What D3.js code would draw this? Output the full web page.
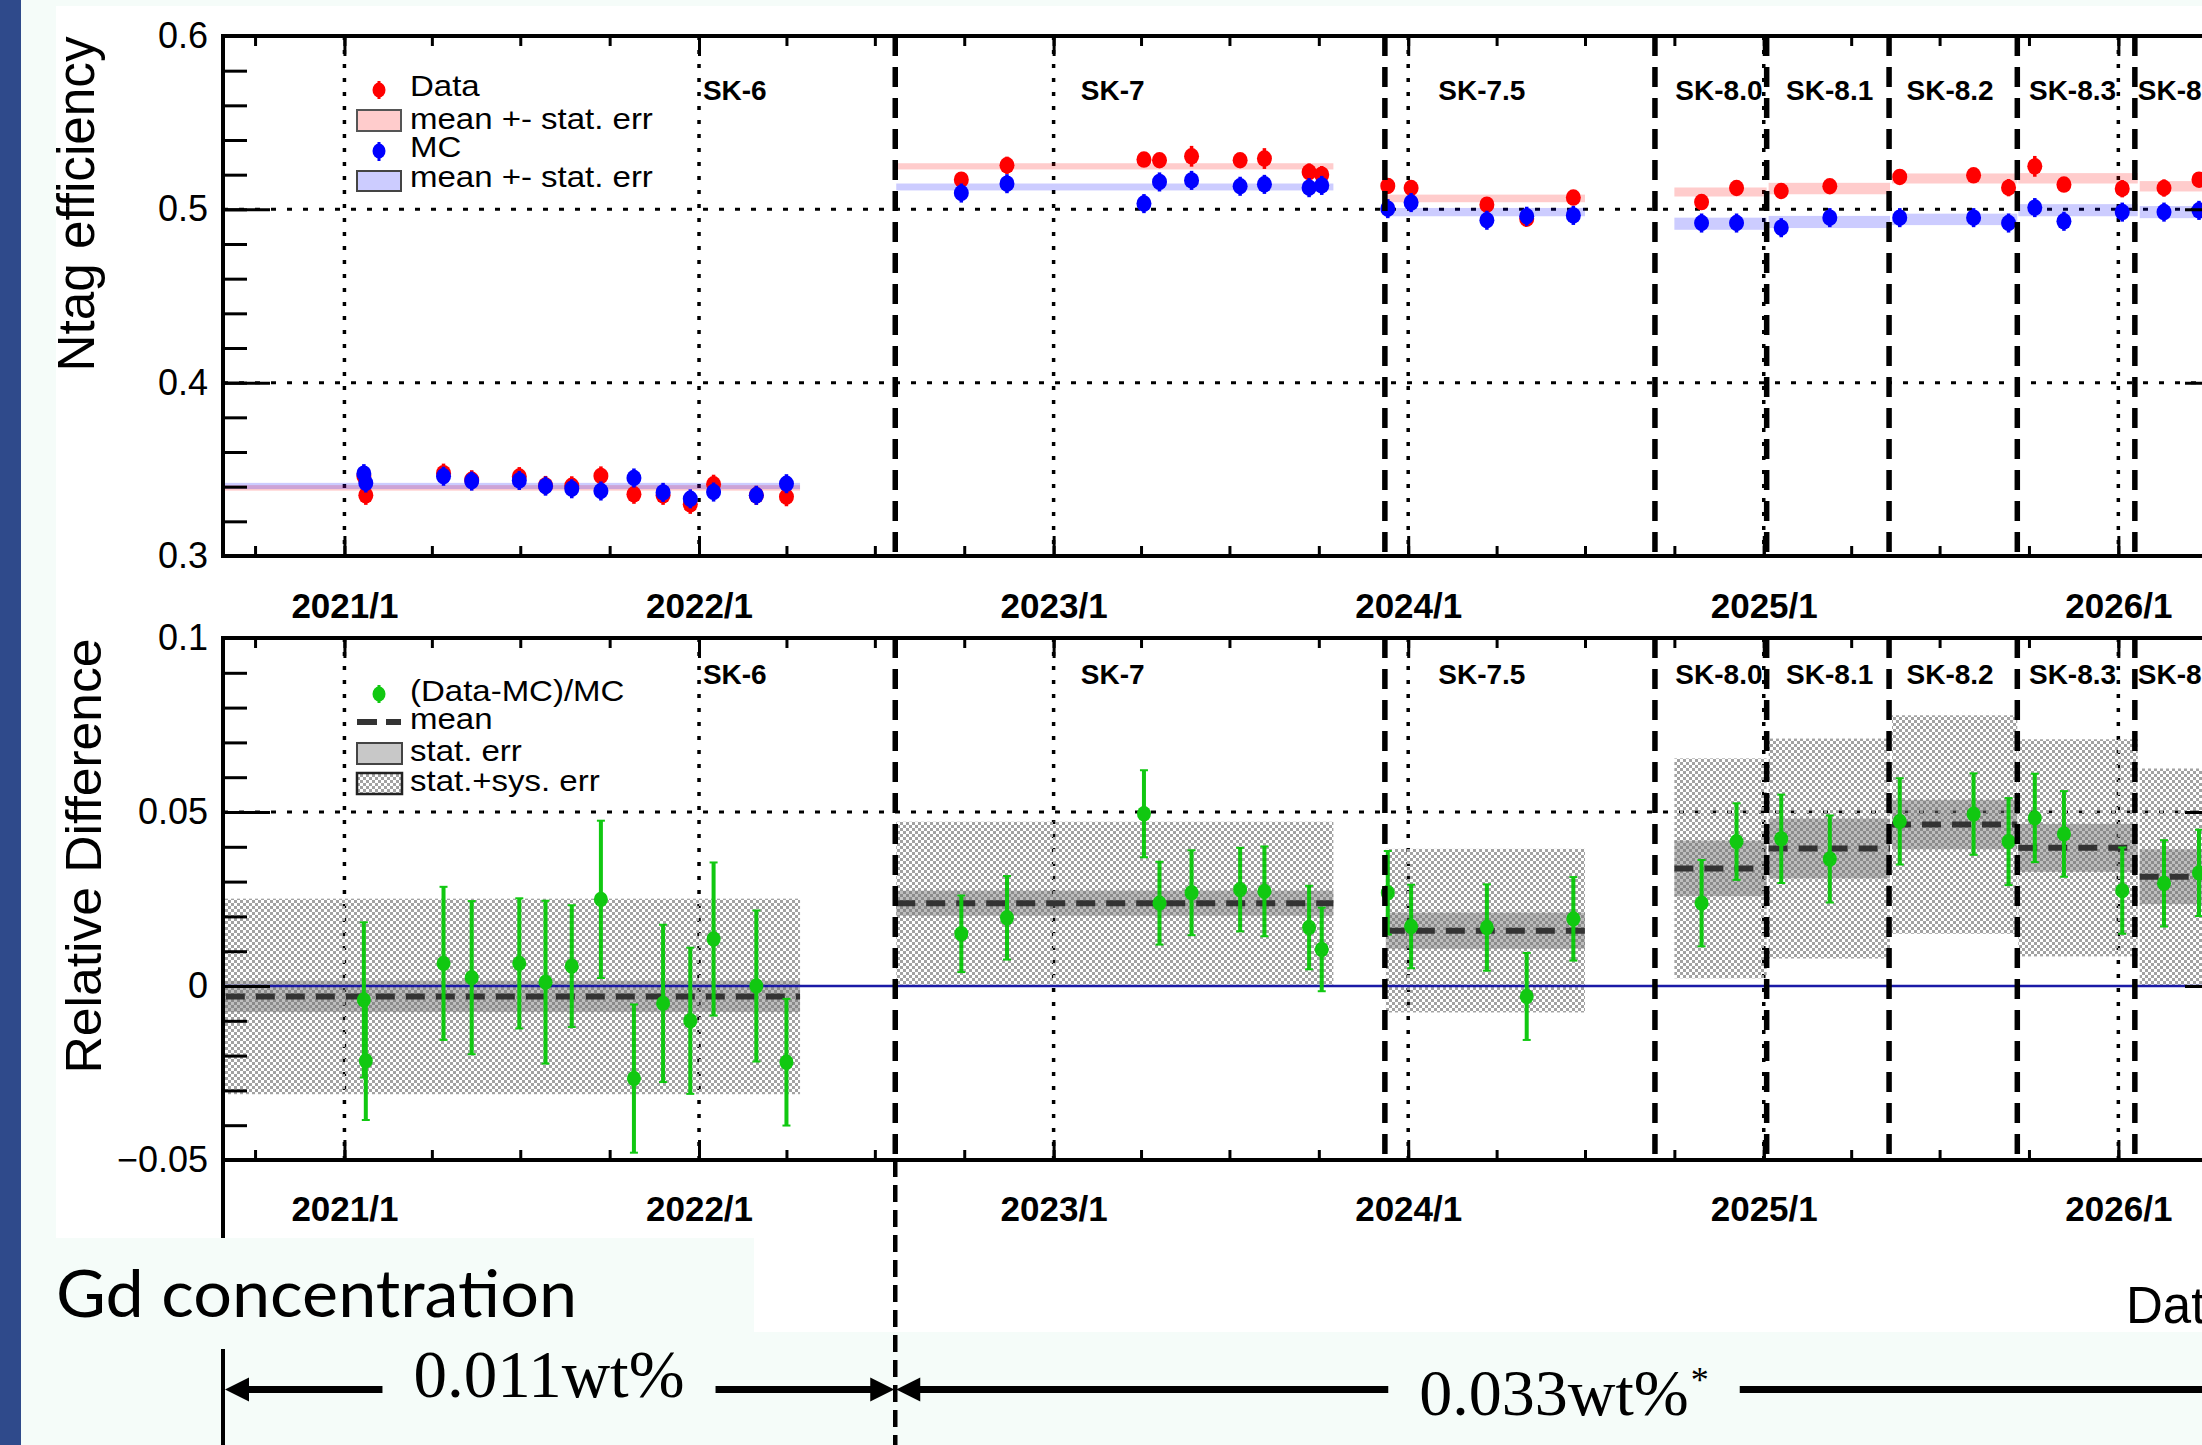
<!DOCTYPE html>
<html>
<head>
<meta charset="utf-8">
<script src="https://cdn.jsdelivr.net/npm/d3@7"></script>
<style>
  body { margin: 0; background: #f5fcf9; }
  svg { display: block; font-family: "Liberation Sans", Arial, sans-serif; }
</style>
</head>
<body>
<svg id="chart" width="2202" height="1445"></svg>
<script>
// run periods
const periodNames = ["SK-6", "SK-7", "SK-7.5", "SK-8.0", "SK-8.1", "SK-8.2", "SK-8.3", "SK-8.4"];
const periodStarts = ["2020-08-01", "2022-07-23", "2023-12-09", "2024-10-01", "2025-01-06", "2025-05-13", "2025-09-20", "2026-01-23"];
const periodEnds = ["2022-04-15", "2023-10-16", "2024-07-01", "2025-01-04", "2025-05-11", "2025-09-19", "2026-01-21", "2026-06-30"];
const periodLabelDates = ["2022-01-05", "2023-01-29", "2024-02-01", "2024-10-02", "2025-01-24", "2025-05-28", "2025-10-01", "2026-01-21"];
const periodBoundaries = ["2022-07-22", "2023-12-08", "2024-09-11", "2025-01-04", "2025-05-10", "2025-09-19", "2026-01-18"];

// per period means
const dataMean = [0.3393, 0.5248, 0.5063, 0.5100, 0.5120, 0.5178, 0.5179, 0.5133];
const dataMeanErr = [0.0016, 0.0018, 0.0022, 0.0026, 0.0033, 0.0029, 0.0030, 0.0030];
const mcMean = [0.3404, 0.5129, 0.4984, 0.4917, 0.4927, 0.4942, 0.4995, 0.4984];
const mcMeanErr = [0.0018, 0.0020, 0.0024, 0.0035, 0.0035, 0.0033, 0.0035, 0.0035];
const relMean = [-0.0030, 0.0238, 0.0159, 0.0338, 0.0395, 0.0464, 0.0397, 0.0314];
const relStatErr = [0.0045, 0.0036, 0.0052, 0.0080, 0.0086, 0.0071, 0.0069, 0.0079];
const relTotalErr = [0.0281, 0.0234, 0.0235, 0.0316, 0.0316, 0.0314, 0.0312, 0.0311];

// single measurements
const pointDates = [
  "2021-01-21", "2021-01-23", "2021-04-13", "2021-05-12", "2021-06-30", "2021-07-27", "2021-08-23",
  "2021-09-22", "2021-10-26", "2021-11-25", "2021-12-23", "2022-01-16", "2022-03-01", "2022-04-01",
  "2022-09-28", "2022-11-14", "2023-04-04", "2023-04-20", "2023-05-23", "2023-07-12", "2023-08-06",
  "2023-09-21", "2023-10-04",
  "2023-12-11", "2024-01-04", "2024-03-22", "2024-05-02", "2024-06-19",
  "2024-10-29", "2024-12-04",
  "2025-01-19", "2025-03-10",
  "2025-05-21", "2025-08-05", "2025-09-10",
  "2025-10-07", "2025-11-06", "2026-01-05",
  "2026-02-17", "2026-03-25"
];
const dataEff = [
  0.3461, 0.3350, 0.3478, 0.3440, 0.3458, 0.3407, 0.3405, 0.3462, 0.3356, 0.3350, 0.3298, 0.3414, 0.3350, 0.3342,
  0.5171, 0.5254, 0.5287, 0.5283, 0.5306, 0.5283, 0.5293, 0.5215, 0.5200,
  0.5135, 0.5123, 0.5027, 0.4946, 0.5068,
  0.5042, 0.5123,
  0.5106, 0.5133,
  0.5187, 0.5196, 0.5125,
  0.5248, 0.5143, 0.5119,
  0.5123, 0.5171
];
const dataEffErr = [
  0.0055, 0.0055, 0.0055, 0.0055, 0.0055, 0.0055, 0.0055, 0.0055, 0.0055, 0.0055, 0.0055, 0.0055, 0.0055, 0.0055,
  0.003, 0.005, 0.003, 0.003, 0.006, 0.003, 0.006, 0.005, 0.005,
  0.004, 0.004, 0.004, 0.004, 0.003,
  0.003, 0.003,
  0.003, 0.003,
  0.003, 0.003, 0.005,
  0.006, 0.003, 0.005,
  0.005, 0.004
];
const mcEff = [
  0.3475, 0.3421, 0.3460, 0.3432, 0.3436, 0.3403, 0.3388, 0.3375, 0.3450, 0.3367, 0.3330, 0.3369, 0.3350, 0.3417,
  0.5094, 0.5148, 0.5033, 0.5158, 0.5167, 0.5133, 0.5144, 0.5125, 0.5138,
  0.5004, 0.5039, 0.4937, 0.4960, 0.4965,
  0.4921, 0.4921,
  0.4894, 0.4952,
  0.4952, 0.4952, 0.4921,
  0.5010, 0.4931, 0.4984,
  0.4984, 0.4994
];
const mcEffErr = [
  0.0055, 0.0055, 0.0055, 0.0055, 0.0055, 0.0055, 0.0055, 0.0055, 0.0055, 0.0055, 0.0055, 0.0055, 0.0055, 0.0055,
  0.0055, 0.0055, 0.0055, 0.0055, 0.0055, 0.0055, 0.0055, 0.0055, 0.0055,
  0.0055, 0.0055, 0.0055, 0.0055, 0.0055,
  0.0055, 0.0055,
  0.0055, 0.0055,
  0.0055, 0.0055, 0.0055,
  0.0055, 0.0055, 0.0055,
  0.0055, 0.0055
];
const relDiff = [
  -0.0040, -0.0215, 0.0065, 0.0024, 0.0065, 0.0011, 0.0057, 0.0249, -0.0266, -0.0050, -0.0100, 0.0135, 0.0000, -0.0219,
  0.0150, 0.0196, 0.0495, 0.0238, 0.0268, 0.0277, 0.0272, 0.0168, 0.0105,
  0.0268, 0.0171, 0.0168, -0.0030, 0.0193,
  0.0238, 0.0415,
  0.0423, 0.0365,
  0.0473, 0.0494, 0.0415,
  0.0483, 0.0437, 0.0274,
  0.0295, 0.0325
];
const relDiffErr = [
  0.0223, 0.0170, 0.0220, 0.0220, 0.0187, 0.0234, 0.0175, 0.0226, 0.0213, 0.0226, 0.0210, 0.0220, 0.0217, 0.0182,
  0.0110, 0.0120, 0.0125, 0.0119, 0.0122, 0.0120, 0.0129, 0.0120, 0.0120,
  0.0120, 0.0120, 0.0124, 0.0125, 0.0120,
  0.0124, 0.0110,
  0.0127, 0.0125,
  0.0124, 0.0117, 0.0125,
  0.0127, 0.0123, 0.0124,
  0.0124, 0.0124
];

// ticks
const yearTicks = ["2021-01-01", "2022-01-01", "2023-01-01", "2024-01-01", "2025-01-01", "2026-01-01"];
const effTicks = [0.3, 0.4, 0.5, 0.6];
const relTicks = [-0.05, 0, 0.05, 0.1];
const effGrid = [0.4, 0.5];
const relGrid = [0.05];

// annotation text
const gdTitle = "Gd concentration";
const gdLabels = ["0.011wt%", "0.033wt%"];

const parse = d3.timeParse("%Y-%m-%d");
const left = 223, right = 2232;
const x = d3.scaleTime()
  .domain([parse("2020-08-29"), parse("2026-04-28")])
  .range([left, right]);
const yEff = d3.scaleLinear().domain([0.3, 0.6]).range([556, 36]);
const yRel = d3.scaleLinear().domain([-0.05, 0.1]).range([1160, 638]);

const points = pointDates.map((d, i) => ({
  date: parse(d),
  data: dataEff[i], dataErr: dataEffErr[i],
  mc: mcEff[i], mcErr: mcEffErr[i],
  rel: relDiff[i], relErr: relDiffErr[i]
}));
const periods = periodNames.map((name, i) => ({
  name,
  start: parse(periodStarts[i]), end: parse(periodEnds[i]), label: parse(periodLabelDates[i]),
  dataMean: dataMean[i], dataMeanErr: dataMeanErr[i],
  mcMean: mcMean[i], mcMeanErr: mcMeanErr[i],
  relMean: relMean[i], relStat: relStatErr[i], relTotal: relTotalErr[i]
}));
const boundaries = periodBoundaries.map(parse);
const years = yearTicks.map(parse);

const svg = d3.select("#chart");

// page background
svg.append("rect").attr("width", 2202).attr("height", 1445).attr("fill", "#f5fcf9");
svg.append("rect").attr("width", 21).attr("height", 1445).attr("fill", "#2f4a8b");
svg.append("rect").attr("x", 56).attr("y", 6).attr("width", 2146).attr("height", 1232).attr("fill", "#fff");
svg.append("rect").attr("x", 754).attr("y", 1238).attr("width", 1448).attr("height", 94).attr("fill", "#fff");

const defs = svg.append("defs");
[["clip-eff", yEff], ["clip-rel", yRel]].forEach(([id, y]) => {
  defs.append("clipPath").attr("id", id).append("rect")
    .attr("x", left).attr("y", y.range()[1])
    .attr("width", right - left).attr("height", y.range()[0] - y.range()[1]);
});
const pattern = defs.append("pattern").attr("id", "checker")
  .attr("width", 6).attr("height", 6).attr("patternUnits", "userSpaceOnUse");
pattern.append("rect").attr("width", 3).attr("height", 3).attr("fill", "#a2a2a2");
pattern.append("rect").attr("x", 3).attr("y", 3).attr("width", 3).attr("height", 3).attr("fill", "#a2a2a2");

function drawGrid(y, gridValues) {
  const [bottom, top] = y.range();
  const g = svg.append("g").attr("stroke", "#000");
  g.selectAll(".hgrid").data(gridValues).join("line")
    .attr("x1", left).attr("x2", right)
    .attr("y1", d => y(d)).attr("y2", d => y(d))
    .attr("stroke-width", 3).attr("stroke-dasharray", "5,11");
  g.selectAll(".vgrid").data(years).join("line")
    .attr("x1", d => x(d)).attr("x2", d => x(d))
    .attr("y1", top).attr("y2", bottom)
    .attr("stroke-width", 3.5).attr("stroke-dasharray", "4,10");
}

function drawBoundaries(y) {
  const [bottom, top] = y.range();
  svg.append("g").selectAll("line").data(boundaries).join("line")
    .attr("x1", d => x(d)).attr("x2", d => x(d))
    .attr("y1", top).attr("y2", bottom)
    .attr("stroke", "#000").attr("stroke-width", 5.5).attr("stroke-dasharray", "20,11");
}

function drawAxes(y, majors, labelPad) {
  const [bottom, top] = y.range();
  const minors = y.ticks(15);
  const g = svg.append("g");
  g.append("g").attr("transform", `translate(${left},0)`)
    .call(d3.axisLeft(y).tickValues(minors).tickSize(-24).tickFormat(""));
  g.append("g").attr("class", "ylab").attr("transform", `translate(${left},0)`)
    .call(d3.axisLeft(y).tickValues(majors).tickSize(-47).tickPadding(15).tickFormat(d3.format("~g")));
  g.append("g").attr("transform", `translate(${right},0)`)
    .call(d3.axisRight(y).tickValues(minors).tickSize(-24).tickFormat(""));
  g.append("g").attr("transform", `translate(${right},0)`)
    .call(d3.axisRight(y).tickValues(majors).tickSize(-47).tickFormat(""));
  g.append("g").attr("transform", `translate(0,${top})`)
    .call(d3.axisTop(x).ticks(d3.timeMonth.every(3)).tickSize(-10).tickFormat(""));
  g.append("g").attr("transform", `translate(0,${bottom})`)
    .call(d3.axisBottom(x).ticks(d3.timeMonth.every(3)).tickSize(-10).tickFormat(""));
  g.append("g").attr("transform", `translate(0,${top})`)
    .call(d3.axisTop(x).tickValues(years).tickSize(-20).tickFormat(""));
  g.append("g").attr("class", "xlab").attr("transform", `translate(0,${bottom})`)
    .call(d3.axisBottom(x).tickValues(years).tickSize(-20).tickPadding(labelPad)
      .tickFormat(d3.timeFormat("%Y/%-m")));
  g.selectAll(".domain").remove();
  g.selectAll(".tick line").attr("stroke", "#000").attr("stroke-width", 3);
  g.selectAll(".ylab text").attr("font-size", 36).attr("font-family", "Liberation Sans, Arial, sans-serif").attr("fill", "#000");
  g.selectAll(".xlab text").attr("font-size", 35).attr("font-weight", "bold")
    .attr("font-family", "Liberation Sans, Arial, sans-serif").attr("fill", "#000");
  g.append("rect").attr("x", left).attr("y", top)
    .attr("width", right - left).attr("height", bottom - top)
    .attr("fill", "none").attr("stroke", "#000").attr("stroke-width", 4);
}

function drawPeriodLabels(yBase) {
  svg.append("g").selectAll("text").data(periods).join("text")
    .attr("x", d => x(d.label)).attr("y", yBase)
    .attr("font-size", 28).attr("font-weight", "bold")
    .text(d => d.name);
}

function drawMarkers(g, key, errKey, y, colour, radius, barWidth, cap) {
  const m = g.append("g").selectAll("g").data(points).join("g");
  m.append("line")
    .attr("x1", d => x(d.date)).attr("x2", d => x(d.date))
    .attr("y1", d => y(d[key] - d[errKey])).attr("y2", d => y(d[key] + d[errKey]))
    .attr("stroke", colour).attr("stroke-width", barWidth);
  if (cap) {
    [-1, 1].forEach(s => {
      m.append("line")
        .attr("x1", d => x(d.date) - cap).attr("x2", d => x(d.date) + cap)
        .attr("y1", d => y(d[key] + s * d[errKey])).attr("y2", d => y(d[key] + s * d[errKey]))
        .attr("stroke", colour).attr("stroke-width", 2);
    });
  }
  m.append("ellipse")
    .attr("cx", d => x(d.date)).attr("cy", d => y(d[key]))
    .attr("rx", radius).attr("ry", radius * 1.1).attr("fill", colour);
}

// legend rows: text widened a little, as in the stretched original
function legendText(g, rows) {
  rows.forEach(([t, yy]) => {
    g.append("text").attr("transform", `translate(410,${yy}) scale(1.1,1)`).text(t);
  });
}

// ---------- upper panel: Ntag efficiency ----------
drawGrid(yEff, effGrid);
const effPlot = svg.append("g").attr("clip-path", "url(#clip-eff)");
effPlot.append("g").selectAll("rect").data(periods).join("rect")
  .attr("x", d => x(d.start)).attr("width", d => x(d.end) - x(d.start))
  .attr("y", d => yEff(d.dataMean + d.dataMeanErr))
  .attr("height", d => yEff(d.dataMean - d.dataMeanErr) - yEff(d.dataMean + d.dataMeanErr))
  .attr("fill", "rgba(255,0,0,0.2)");
effPlot.append("g").selectAll("rect").data(periods).join("rect")
  .attr("x", d => x(d.start)).attr("width", d => x(d.end) - x(d.start))
  .attr("y", d => yEff(d.mcMean + d.mcMeanErr))
  .attr("height", d => yEff(d.mcMean - d.mcMeanErr) - yEff(d.mcMean + d.mcMeanErr))
  .attr("fill", "rgba(0,0,255,0.2)");
drawBoundaries(yEff);
drawMarkers(effPlot, "data", "dataErr", yEff, "#ff0000", 7.5, 3.5, 0);
drawMarkers(effPlot, "mc", "mcErr", yEff, "#0000ff", 7.5, 3.5, 0);
drawAxes(yEff, effTicks, 37);
drawPeriodLabels(100);

svg.append("text")
  .attr("transform", `translate(94,${(yEff.range()[0] + yEff.range()[1]) / 2 - 92}) rotate(-90)`)
  .attr("text-anchor", "middle").attr("font-size", 51)
  .attr("textLength", 335).attr("lengthAdjust", "spacingAndGlyphs")
  .text("Ntag efficiency");

// legend, upper panel
const legEff = svg.append("g").attr("font-size", 30);
legEff.append("line").attr("x1", 379).attr("x2", 379).attr("y1", 81).attr("y2", 99)
  .attr("stroke", "#ff0000").attr("stroke-width", 3);
legEff.append("ellipse").attr("cx", 379).attr("cy", 90).attr("rx", 6.5).attr("ry", 7.5).attr("fill", "#ff0000");
legEff.append("rect").attr("x", 357).attr("y", 110).attr("width", 44).attr("height", 21)
  .attr("fill", "#ffcccc").attr("stroke", "#555").attr("stroke-width", 2);
legEff.append("line").attr("x1", 379).attr("x2", 379).attr("y1", 142).attr("y2", 161)
  .attr("stroke", "#0000ff").attr("stroke-width", 3);
legEff.append("ellipse").attr("cx", 379).attr("cy", 151).attr("rx", 6.5).attr("ry", 7.5).attr("fill", "#0000ff");
legEff.append("rect").attr("x", 357).attr("y", 171).attr("width", 44).attr("height", 20)
  .attr("fill", "#ccccff").attr("stroke", "#444").attr("stroke-width", 2);
legendText(legEff, [["Data", 96], ["mean +- stat. err", 129], ["MC", 157], ["mean +- stat. err", 187]]);

// ---------- lower panel: relative difference ----------
drawGrid(yRel, relGrid);
const relPlot = svg.append("g").attr("clip-path", "url(#clip-rel)");
relPlot.append("g").selectAll("rect").data(periods).join("rect")
  .attr("x", d => x(d.start)).attr("width", d => x(d.end) - x(d.start))
  .attr("y", d => yRel(d.relMean + d.relTotal))
  .attr("height", d => yRel(d.relMean - d.relTotal) - yRel(d.relMean + d.relTotal))
  .attr("fill", "url(#checker)");
relPlot.append("g").selectAll("rect").data(periods).join("rect")
  .attr("x", d => x(d.start)).attr("width", d => x(d.end) - x(d.start))
  .attr("y", d => yRel(d.relMean + d.relStat))
  .attr("height", d => yRel(d.relMean - d.relStat) - yRel(d.relMean + d.relStat))
  .attr("fill", "rgba(110,110,110,0.45)");
relPlot.append("g").selectAll("line").data(periods).join("line")
  .attr("x1", d => x(d.start)).attr("x2", d => x(d.end))
  .attr("y1", d => yRel(d.relMean)).attr("y2", d => yRel(d.relMean))
  .attr("stroke", "#333").attr("stroke-width", 6).attr("stroke-dasharray", "19,11");
relPlot.append("line").attr("x1", left).attr("x2", right)
  .attr("y1", yRel(0)).attr("y2", yRel(0))
  .attr("stroke", "#1a1aa6").attr("stroke-width", 2.5);
drawBoundaries(yRel);
drawMarkers(relPlot, "rel", "relErr", yRel, "#11c811", 7, 4, 4);
drawAxes(yRel, relTicks, 36);
drawPeriodLabels(684);

svg.append("text")
  .attr("transform", `translate(101,856) rotate(-90)`)
  .attr("text-anchor", "middle").attr("font-size", 50)
  .attr("textLength", 435).attr("lengthAdjust", "spacingAndGlyphs")
  .text("Relative Difference");

// legend, lower panel
const legRel = svg.append("g").attr("font-size", 30);
legRel.append("line").attr("x1", 379).attr("x2", 379).attr("y1", 685).attr("y2", 703)
  .attr("stroke", "#11c811").attr("stroke-width", 3);
legRel.append("ellipse").attr("cx", 379).attr("cy", 694).attr("rx", 6.5).attr("ry", 7.5).attr("fill", "#11c811");
legRel.append("line").attr("x1", 357).attr("x2", 401).attr("y1", 722).attr("y2", 722)
  .attr("stroke", "#333").attr("stroke-width", 6).attr("stroke-dasharray", "20,9");
legRel.append("rect").attr("x", 357).attr("y", 743).attr("width", 45).attr("height", 21)
  .attr("fill", "#c8c8c8").attr("stroke", "#444").attr("stroke-width", 2);
legRel.append("rect").attr("x", 357).attr("y", 773).attr("width", 45).attr("height", 21)
  .attr("fill", "url(#checker)").attr("stroke", "#222").attr("stroke-width", 2.5);
legendText(legRel, [["(Data-MC)/MC", 701], ["mean", 729], ["stat. err", 761], ["stat.+sys. err", 791]]);

// x-axis title (cut by the page edge)
svg.append("text").attr("x", 2126).attr("y", 1323).attr("font-size", 51).text("Date");

// ---------- Gd concentration annotation ----------
const ann = svg.append("g");
const arrowY = 1389.5;
const change = x(boundaries[0]);

ann.append("text").attr("x", 56).attr("y", 1317)
  .attr("font-family", "Lato, 'Open Sans', sans-serif").attr("font-size", 66)
  .attr("textLength", 521).attr("lengthAdjust", "spacingAndGlyphs")
  .text(gdTitle);

ann.append("line").attr("x1", left).attr("x2", left).attr("y1", 1160).attr("y2", 1238)
  .attr("stroke", "#000").attr("stroke-width", 4);
ann.append("line").attr("x1", left).attr("x2", left).attr("y1", 1349).attr("y2", 1445)
  .attr("stroke", "#000").attr("stroke-width", 4);
ann.append("line").attr("x1", change).attr("x2", change).attr("y1", 1160).attr("y2", 1445)
  .attr("stroke", "#000").attr("stroke-width", 4.5).attr("stroke-dasharray", "17,8");

const t1 = ann.append("text").attr("x", 549).attr("y", 1397).attr("text-anchor", "middle")
  .attr("font-family", "'Liberation Serif', 'DejaVu Serif', serif").attr("font-size", 67)
  .text(gdLabels[0]);
const t2 = ann.append("text").attr("x", 1554).attr("y", 1415).attr("text-anchor", "middle")
  .attr("font-family", "'Liberation Serif', 'DejaVu Serif', serif").attr("font-size", 66)
  .text(gdLabels[1]);
const w1 = t1.node().getComputedTextLength();
const w2 = t2.node().getComputedTextLength();
ann.append("text").attr("x", 1554 + w2 / 2 + 2).attr("y", 1392)
  .attr("font-family", "'Liberation Serif', 'DejaVu Serif', serif").attr("font-size", 36)
  .text("*");

const gap = 31;
const segments = [
  [left + 20, 549 - w1 / 2 - gap],
  [549 + w1 / 2 + gap, change - 20],
  [change + 20, 1554 - w2 / 2 - gap],
  [1554 + w2 / 2 + gap + 20, 2210]
];
ann.selectAll(".seg").data(segments).join("line")
  .attr("x1", d => d[0]).attr("x2", d => d[1])
  .attr("y1", arrowY).attr("y2", arrowY)
  .attr("stroke", "#000").attr("stroke-width", 7);

// arrow heads: [tip x, direction]
const heads = [[left + 2, -1], [change - 1, 1], [change + 1, -1]];
ann.selectAll(".head").data(heads).join("path")
  .attr("d", d => `M${d[0]},${arrowY} L${d[0] - d[1] * 24},${arrowY - 12} L${d[0] - d[1] * 24},${arrowY + 12} Z`)
  .attr("fill", "#000");
</script>
</body>
</html>
